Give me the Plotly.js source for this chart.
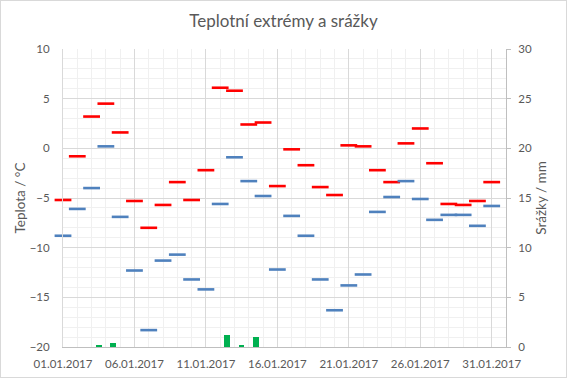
<!DOCTYPE html>
<html><head><meta charset="utf-8">
<script src="https://cdn.plot.ly/plotly-3.0.1.min.js"></script>
<style>html,body{margin:0;padding:0;background:#fff}#chart{width:565px;height:376px;border:1px solid #d9d9d9}</style>
</head><body><div id="chart"></div>
<script>
const dates = ['2017-01-01','2017-01-02','2017-01-03','2017-01-04','2017-01-05','2017-01-06','2017-01-07','2017-01-08','2017-01-09','2017-01-10',
  '2017-01-11','2017-01-12','2017-01-13','2017-01-14','2017-01-15','2017-01-16','2017-01-17','2017-01-18','2017-01-19','2017-01-20',
  '2017-01-21','2017-01-22','2017-01-23','2017-01-24','2017-01-25','2017-01-26','2017-01-27','2017-01-28','2017-01-29','2017-01-30','2017-01-31'];
const tMax = [-5.2,-0.8,3.2,4.5,1.6,-5.3,-8.0,-5.7,-3.4,-5.2,
  -2.2,6.1,5.8,2.4,2.6,-3.8,-0.1,-1.7,-3.9,-4.7,
  0.3,0.2,-2.2,-3.4,0.5,2.0,-1.5,-5.6,-5.7,-5.3,-3.4];
const tMin = [-8.8,-6.1,-4.0,0.2,-6.9,-12.3,-18.3,-11.3,-10.7,-13.2,
  -14.2,-5.6,-0.9,-3.3,-4.8,-12.2,-6.8,-8.8,-13.2,-16.3,
  -13.8,-12.7,-6.4,-4.9,-3.3,-5.1,-7.2,-6.7,-6.7,-7.8,-5.8];
const rain = [0,0,0.2,0.4,0,0,0,0,0,0,
  0,1.2,0.2,1.0,0,0,0,0,0,0,
  0,0,0,0,0,0,0,0,0,0,0];

const chartTitle = 'Teplotní extrémy a srážky';
const yTitle = 'Teplota / °C';
const y2Title = 'Srážky / mm';

const FONT = 'Lato, "Open Sans", sans-serif';
const TXT = '#595959';
const DAY = 86400000;

const traces = [
  {type:'bar', x:dates, y:rain, xaxis:'x2', yaxis:'y2', name:'Srážky',
   marker:{color:'#00b050'}, width:0.4*DAY},
  {type:'scatter', mode:'markers', x:dates, y:tMax, name:'Max', cliponaxis:false,
   marker:{symbol:'line-ew', size:12, color:'#ff0000', line:{color:'#ff0000', width:2.6}}},
  {type:'scatter', mode:'markers', x:dates, y:tMin, name:'Min', cliponaxis:false,
   marker:{symbol:'line-ew', size:12, color:'#4f81bd', line:{color:'#4f81bd', width:2.6}}}
];

const layout = {
  width:565, height:376,
  margin:{l:62, r:60, t:48, b:30},
  paper_bgcolor:'#fff', plot_bgcolor:'#fff',
  showlegend:false,
  font:{family:FONT, color:TXT, size:11},
  title:{text:chartTitle, x:0.5, xanchor:'center', y:0.948, yanchor:'middle', yref:'container',
         font:{family:FONT, size:17, color:TXT}},
  xaxis:{type:'date', range:['2017-01-01','2017-02-01'], tick0:'2017-01-01', dtick:5*DAY,
         tickformat:'%d.%m.%Y', showgrid:true, gridcolor:'#d9d9d9', gridwidth:1,
         minor:{dtick:DAY, tick0:'2017-01-01', showgrid:true, gridcolor:'#f0f0f0', gridwidth:1},
         showline:true, linecolor:'#bfbfbf', linewidth:1, ticks:'', zeroline:false, ticklabelstandoff:6,
         tickfont:{family:FONT, size:11.5, color:TXT}},
  xaxis2:{type:'date', overlaying:'x', range:['2016-12-31 12:00','2017-01-31 12:00'], visible:false, anchor:'y2'},
  yaxis:{range:[-20,10], dtick:5, showgrid:true, gridcolor:'#d9d9d9',
         minor:{dtick:1, showgrid:true, gridcolor:'#f0f0f0'},
         zeroline:false, showline:true, linecolor:'#d9d9d9', ticks:'', ticklabelstandoff:10,
         tickfont:{family:FONT, size:11.5, color:TXT},
         title:{text:yTitle, standoff:0, font:{family:FONT, size:13.5, color:TXT}}},
  yaxis2:{range:[0,30], dtick:5, overlaying:'y', side:'right', anchor:'x2', showgrid:false, zeroline:false,
          showline:true, linecolor:'#bfbfbf', ticks:'outside', ticklen:4, tickcolor:'#bfbfbf', ticklabelstandoff:5,
          tickfont:{family:FONT, size:11.5, color:TXT},
          title:{text:y2Title, standoff:5, font:{family:FONT, size:13.5, color:TXT}}},
  bargap:0
};

Plotly.newPlot('chart', traces, layout, {staticPlot:true, displayModeBar:false});
</script>
</body></html>
